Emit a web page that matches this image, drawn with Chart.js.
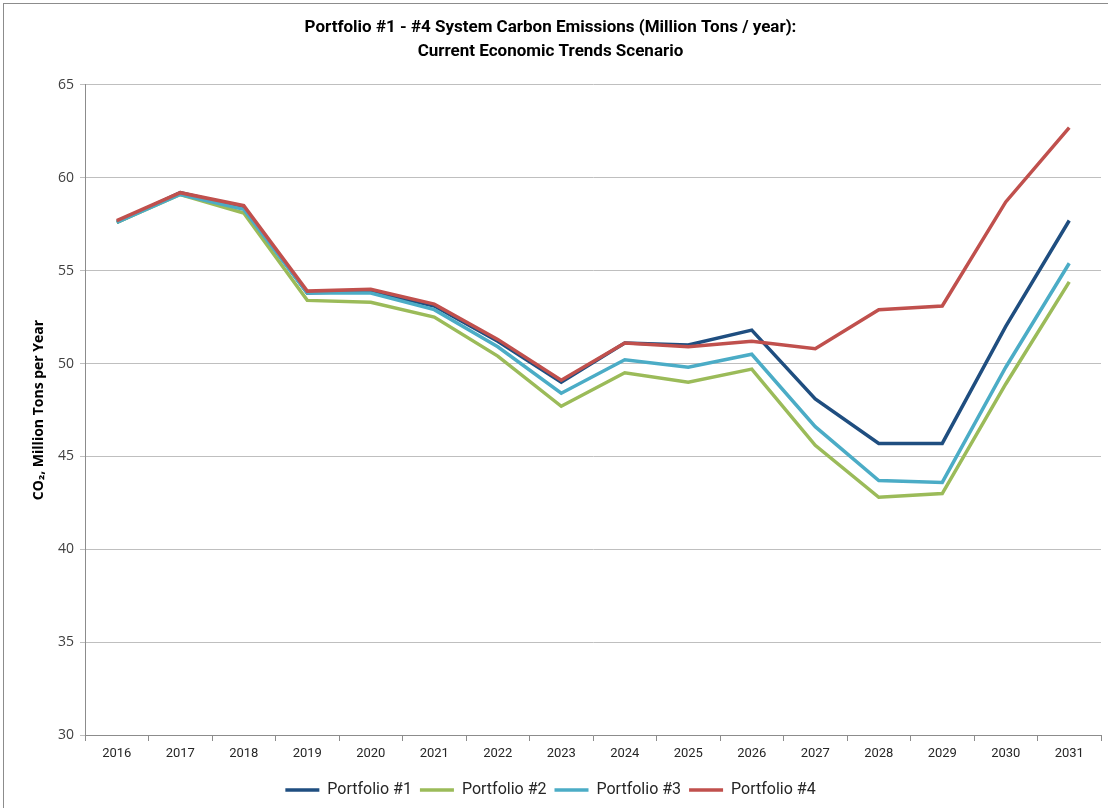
<!DOCTYPE html>
<html>
<head>
<meta charset="utf-8">
<script src="https://cdn.jsdelivr.net/npm/chart.js@4"></script>
<style>
  html, body { margin: 0; padding: 0; background: #fff; }
  #wrap { position: relative; width: 1108px; height: 808px; overflow: hidden; }
  #frame { position: absolute; left: 3px; top: 3px; width: 1120px; height: 820px; border: 1px solid #8c8c8c; box-sizing: border-box; }
  canvas { position: absolute; left: 0; top: 0; }
</style>
</head>
<body>
<div id="wrap">
  <div id="frame"></div>
  <canvas id="chart" width="1108" height="808"></canvas>
</div>
<script>
/* ========== Data ========== */
const years = ['2016', '2017', '2018', '2019', '2020', '2021', '2022', '2023',
               '2024', '2025', '2026', '2027', '2028', '2029', '2030', '2031'];
const portfolio1 = [57.6, 59.2, 58.4, 53.8, 53.9, 53.1, 51.2, 49.0, 51.1, 51.0, 51.8, 48.1, 45.7, 45.7, 52.0, 57.7];
const portfolio2 = [57.6, 59.1, 58.1, 53.4, 53.3, 52.5, 50.4, 47.7, 49.5, 49.0, 49.7, 45.6, 42.8, 43.0, 48.9, 54.4];
const portfolio3 = [57.6, 59.1, 58.3, 53.8, 53.8, 52.9, 50.9, 48.4, 50.2, 49.8, 50.5, 46.6, 43.7, 43.6, 49.8, 55.4];
const portfolio4 = [57.7, 59.2, 58.5, 53.9, 54.0, 53.2, 51.3, 49.1, 51.1, 50.9, 51.2, 50.8, 52.9, 53.1, 58.7, 62.7];
const seriesNames = ['Portfolio #1', 'Portfolio #2', 'Portfolio #3', 'Portfolio #4'];
const yTicks = { min: 30, max: 65, step: 5 };

/* ========== Colors ========== */
const COLORS = ['#1F4E80', '#9BBB59', '#4BACC6', '#C0504D'];
const NARROW = "'Liberation Sans Narrow', 'Arial Narrow', 'Roboto', sans-serif";
const OPEN = "'Open Sans', 'DejaVu Sans', sans-serif";

Chart.defaults.color = '#262626';

function makeSet(i, data) {
  return {
    label: seriesNames[i],
    data: data,
    borderColor: COLORS[i],
    backgroundColor: COLORS[i],
    borderWidth: 3.5,
    pointRadius: 0,
    tension: 0,
    order: 4 - i   // Excel paints later series on top
  };
}

new Chart(document.getElementById('chart'), {
  type: 'line',
  data: {
    labels: years,
    datasets: [
      makeSet(0, portfolio1),
      makeSet(1, portfolio2),
      makeSet(2, portfolio3),
      makeSet(3, portfolio4)
    ]
  },
  options: {
    responsive: false,
    animation: false,
    layout: { padding: { left: 0, right: 7, top: 0, bottom: 0 } },
    plugins: {
      tooltip: { enabled: false },
      title: {
        display: true,
        text: ['Portfolio #1 - #4 System Carbon Emissions (Million Tons / year):',
               'Current Economic Trends Scenario'],
        color: '#000',
        font: { family: NARROW, size: 17, weight: 'bold', lineHeight: 1.41 },
        padding: { top: 16, bottom: 21 }
      },
      legend: {
        position: 'bottom',
        labels: {
          usePointStyle: true,
          pointStyle: 'line',
          pointStyleWidth: 34,
          boxHeight: 14,
          padding: 8,
          sort: (a, b) => a.datasetIndex - b.datasetIndex,
          color: '#262626',
          font: { family: NARROW, size: 16 }
        }
      }
    },
    scales: {
      x: {
        offset: true,
        grid: { offset: true, drawOnChartArea: false, drawTicks: true, tickLength: 6, color: '#8c8c8c' },
        border: { color: '#8c8c8c', width: 1 },
        ticks: { font: { family: NARROW, size: 13 }, color: '#262626', padding: 5, maxRotation: 0 },
        afterFit: s => { s.height = 39; }
      },
      y: {
        min: yTicks.min,
        max: yTicks.max,
        grid: { color: '#bfbfbf', lineWidth: 1, tickLength: 5, drawTicks: true },
        border: { color: '#8c8c8c', width: 1 },
        ticks: { stepSize: yTicks.step, font: { family: OPEN, size: 14 }, color: '#404040', padding: 6 },
        title: {
          display: true,
          text: 'CO\u2082, Million Tons per Year',
          color: '#000',
          font: { family: OPEN, size: 14, weight: 'bold' },
          padding: { top: 31, bottom: 4 }
        },
        afterFit: s => { s.width = 85; }
      }
    }
  }
});
</script>
</body>
</html>
